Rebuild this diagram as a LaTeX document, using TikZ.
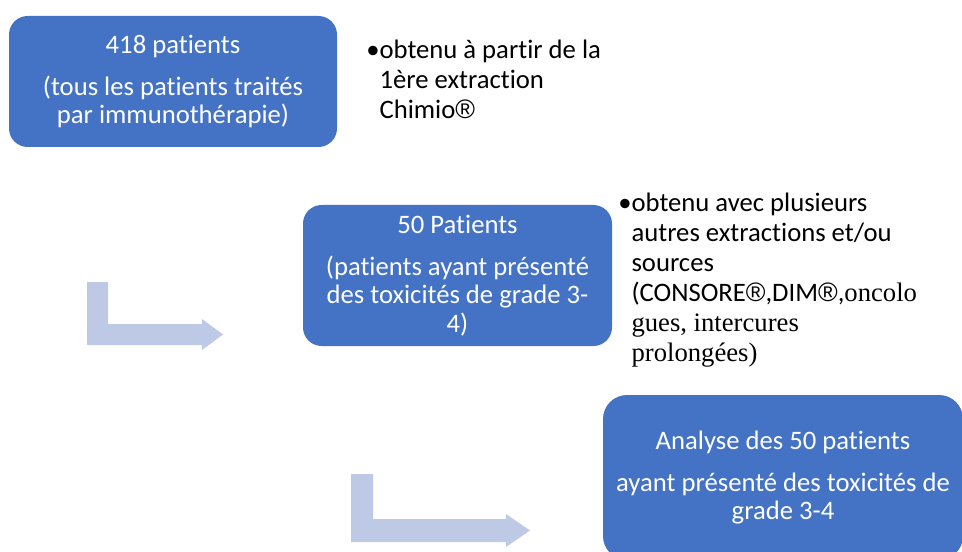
\documentclass[tikz,border=0pt]{standalone}
\usepackage{fontspec}
\setmainfont{Carlito}[Ligatures=NoCommon]
\newfontfamily\timesfont{Liberation Serif}
\newfontfamily\markfont{Liberation Sans}
\newcommand{\regmark}{{\markfont ®}}
\definecolor{boxblue}{HTML}{4472C4}
\definecolor{arrowblue}{RGB}{190,201,229}
\tikzset{
  stepbox/.style={fill=boxblue, text=white, align=center, inner sep=0pt,
    font=\fontsize{20}{21.5}\selectfont},
  note/.style={anchor=north west, align=left, inner sep=0pt,
    font=\fontsize{20}{22.4}\selectfont},
  bentarrow/.style={fill=arrowblue, draw=none}
}

\begin{document}
\begin{tikzpicture}[x=0.75pt, y=-0.75pt]
		%%%%% START %%%%%
		\useasboundingbox (0,0) rectangle (962,552);
		\clip (0,0) rectangle (962,552);
		
		% first step
		\node[stepbox, rounded corners=14pt, minimum width=246pt, minimum height=98.25pt] (total) at (173,81.5)
			{418 patients\\[10pt](tous les patients traités\\par immunothérapie)};
		\node[note] (totalnote) at (366,39.5)
			{•obtenu à partir de la\\\hphantom{•}1ère extraction\\\hphantom{•}Chimio\regmark};
		
		% second step
		\draw[bentarrow] (87,282) -- (108,282) -- (108,324) -- (202,324) -- (202,319)
			-- (223,334.5) -- (202,350) -- (202,345) -- (87,345) -- cycle;
		\node[stepbox, rounded corners=14pt, minimum width=231.75pt, minimum height=105.75pt] (toxic) at (457.5,275.5)
			{50 Patients\\[10pt](patients ayant présenté\\des toxicités de grade 3-\\4)};
		\node[note] (toxicnote) at (618,193)
			{•obtenu avec plusieurs\\\hphantom{•}autres extractions et/ou\\\hphantom{•}sources\\
			\hphantom{•}(CONSORE\regmark,DIM\regmark,{\timesfont oncolo}\\\hphantom{•}{\timesfont gues, intercures}\\
			\hphantom{•}{\timesfont prolongées)}};
		
		% third step
		\draw[bentarrow] (351,474) -- (373,474) -- (373,519) -- (506,519) -- (506,514)
			-- (530,530.5) -- (506,547) -- (506,542) -- (351,542) -- cycle;
		\node[stepbox, rounded corners=18pt, minimum width=270pt, minimum height=123.75pt] (analysis) at (783,477.5)
			{Analyse des 50 patients\\[10pt]ayant présenté des toxicités de\\grade 3-4};
		
		%%%%% END %%%%%
\end{tikzpicture}
\end{document}
